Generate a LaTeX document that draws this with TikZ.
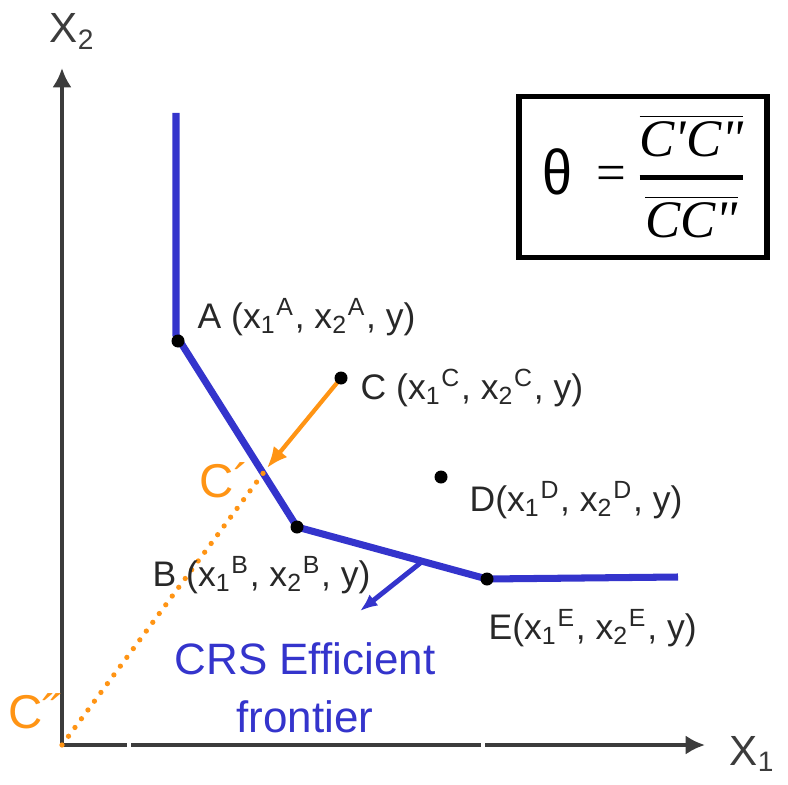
\documentclass[tikz,border=0pt]{standalone}
\usepackage{fontspec}
\setmainfont{Liberation Sans}
\newfontfamily\formulafont{Liberation Serif}
\usetikzlibrary{arrows.meta,positioning,calc}
\definecolor{dearblue}{RGB}{52,52,204}
\definecolor{dearorange}{RGB}{255,148,20}
\definecolor{dearink}{RGB}{40,40,40}
\definecolor{dearaxis}{RGB}{60,60,60}
\tikzset{
  dearaxisline/.style={-{Latex[length=5.5pt,width=5.5pt]}, line width=1.1pt, dearaxis},
  dearfrontier/.style={dearblue, line width=2pt},
  deardot/.style={fill=black},
  dearproj/.style={-{Latex[length=6pt,width=5pt]}, dearorange, line width=1.2pt},
  dearray/.style={dearorange, line width=1.5pt, dash pattern=on 0pt off 3.1pt, line cap=round},
  dearlabel/.style={anchor=base west, inner sep=0pt, text=dearink,
    font=\fontsize{10.1}{12}\selectfont},
  dearbox/.style={draw=black, line width=1.5pt, inner sep=0pt},
}
\begin{document}
\begin{tikzpicture}[x=0.01cm, y=-0.01cm]
  \useasboundingbox (0,0) rectangle (788,785);
  % axes
  \coordinate (O) at (62,745);
  \coordinate (Ytop) at (62,68);
  \coordinate (Xend) at (705,745);
  \draw[dearaxisline] (O) -- (Ytop);
  \draw[dearaxisline] (O) -- (Xend);
  \draw[white, line width=1.2pt] (129,739) -- (129,751);
  \draw[white, line width=1.2pt] (483,739) -- (483,751);
  \node[anchor=base west, inner sep=0pt, text=dearaxis, font=\fontsize{12}{14}\selectfont] (xtwo) at (49,43) {X\textsubscript{2}};
  \node[anchor=base west, inner sep=0pt, text=dearaxis, font=\fontsize{12}{14}\selectfont] (xone) at (729,765) {X\textsubscript{1}};
  % frontier
  \coordinate (top) at (176,113);
  \coordinate (A) at (178,341);
  \coordinate (B) at (297,527);
  \coordinate (E) at (487,579);
  \coordinate (right) at (678,577);
  \coordinate (C) at (341,378);
  \coordinate (D) at (441,477);
  \coordinate (Cp) at (267,468);
  \draw[dearfrontier] (top) -- (176,335) -- (B) -- (E) -- (right);
  % radial projection of C
  \draw[dearray] (O) -- (Cp);
  \draw[dearproj] (C) -- (Cp);
  \foreach \p in {A,B,C,D,E}
    \fill[deardot] (\p) circle (6.5);
  % points
  \node[dearlabel] (Alab) at (197,328) {A (x\textsubscript{1}\textsuperscript{A}, x\textsubscript{2}\textsuperscript{A}, y)};
  \node[dearlabel] (Clab) at (360,399) {C (x\textsubscript{1}\textsuperscript{C}, x\textsubscript{2}\textsuperscript{C}, y)};
  \node[dearlabel] (Dlab) at (469,511) {D(x\textsubscript{1}\textsuperscript{D}, x\textsubscript{2}\textsuperscript{D}, y)};
  \node[dearlabel] (Blab) at (152,586) {B (x\textsubscript{1}\textsuperscript{B}, x\textsubscript{2}\textsuperscript{B}, y)};
  \node[dearlabel] (Elab) at (488,639) {E(x\textsubscript{1}\textsuperscript{E}, x\textsubscript{2}\textsuperscript{E}, y)};
  \node[anchor=base west, inner sep=0pt, text=dearorange, font=\fontsize{13.5}{15}\selectfont] (Cplab) at (199,497) {C´};
  \node[anchor=base west, inner sep=0pt, text=dearorange, font=\fontsize{13.5}{15}\selectfont] (Cpplab) at (8,728) {C˝};
  % frontier label
  \coordinate (tick) at ($(B)!0.66!(E)$);
  \coordinate (tickend) at (360,611);
  \draw[-{Latex[length=5pt,width=4pt]}, dearblue, line width=1.4pt] (tick) -- (tickend);
  \node[text=dearblue, align=center, font=\fontsize{12.5}{16.5}\selectfont] (crs) at (305,688) {CRS Efficient\\frontier};
  % efficiency formula
  \node[dearbox, minimum width=2.48cm, minimum height=1.61cm] (box) at (643,177) {};
  \node[inner sep=0pt, font=\formulafont\fontsize{15}{18}\selectfont] (theta) at (645,176)
    {$\mbox{\raisebox{-1.2pt}{\scalebox{0.85}[1]{\normalfont\fontsize{18}{20}\selectfont θ}}}\hspace{7pt}\mbox{=}\hspace{2.5pt}
     \displaystyle{\overline{\mbox{\itshape C'C"}}\above1.4pt\overline{\mbox{\itshape CC"}}}$};
\end{tikzpicture}
\end{document}
